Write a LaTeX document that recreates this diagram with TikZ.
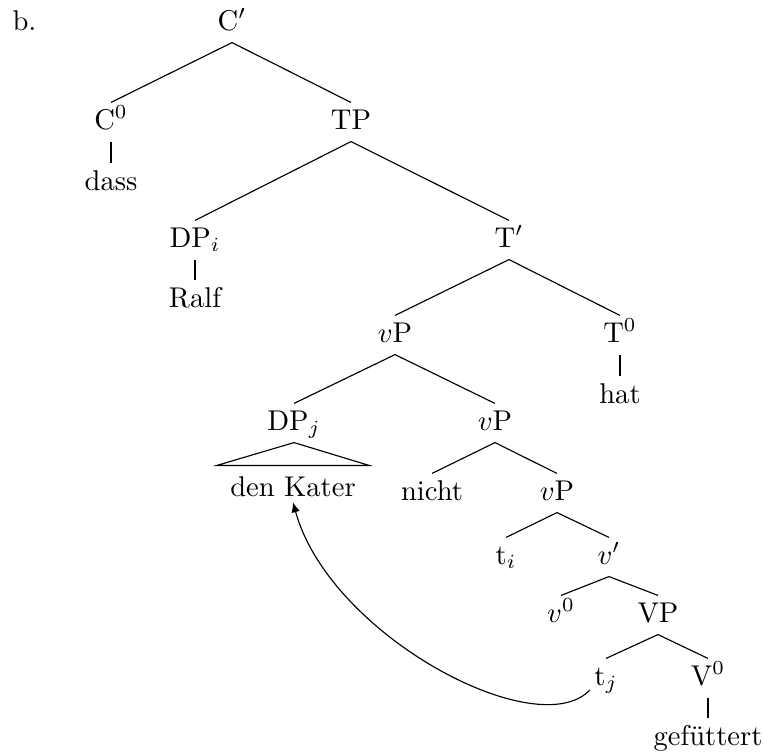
\documentclass[tikz,border=0pt]{standalone}
\usepackage{fontspec}
\usetikzlibrary{arrows.meta}
\begin{document}
\begin{tikzpicture}[x=0.35pt,y=-0.35pt,
  lbl/.style={inner sep=0pt, text height=9.1pt, text depth=4.2pt, anchor=base},
  edge/.style={line width=0.4pt},
  move/.style={line width=0.4pt, -{Latex[length=3.5pt,width=3pt]}}]
\useasboundingbox (0,0) rectangle (764,756);

% example label
\node[anchor=base west, inner sep=0pt] (ex) at (12,30) {b.};

% nodes (placed at their baselines)
\node[lbl] (cbar) at (232,30)  {C$'$};
\node[lbl] (c0)   at (111,129) {C$^0$};
\node[lbl] (dass) at (111,190) {dass};
\node[lbl] (tp)   at (351,129) {TP};
\node[lbl] (dpi)  at (195,247) {DP$_i$};
\node[lbl] (ralf) at (195,307) {Ralf};
\node[lbl] (tbar) at (509,247) {T$'$};
\node[lbl] (vp1)  at (395,342) {$v$P};
\node[lbl] (t0)   at (620,342) {T$^0$};
\node[lbl] (hat)  at (620,403) {hat};
\node[lbl] (dpj)  at (294,430) {DP$_j$};
\node[lbl, text height=10.5pt, text depth=2pt, inner xsep=4.5pt] (kater) at (293,496) {den Kater};
\node[lbl] (vp2)  at (495,430) {$v$P};
\node[lbl] (nicht) at (432,500) {nicht};
\node[lbl] (vp3)  at (557,500) {$v$P};
\node[lbl] (ti)   at (506,564) {t$_i$};
\node[lbl] (vbar) at (609,564) {$v'$};
\node[lbl] (v0)   at (561,622) {$v^0$};
\node[lbl] (vp)   at (658,622) {VP};
\node[lbl] (tj)   at (606,685) {t$_j$};
\node[lbl] (vv0)  at (708,685) {V$^0$};
\node[lbl] (gef)  at (708,745) {gefüttert};

% branches
\draw[edge] (cbar.south) -- (c0.north);
\draw[edge] (cbar.south) -- (tp.north);
\draw[edge] (c0.south) -- (dass.north);
\draw[edge] (tp.south) -- (dpi.north);
\draw[edge] (tp.south) -- (tbar.north);
\draw[edge] (dpi.south) -- (ralf.north);
\draw[edge] (tbar.south) -- (vp1.north);
\draw[edge] (tbar.south) -- (t0.north);
\draw[edge] (t0.south) -- (hat.north);
\draw[edge] (vp1.south) -- (dpj.north);
\draw[edge] (vp1.south) -- (vp2.north);
\draw[edge] (vp2.south) -- (nicht.north);
\draw[edge] (vp2.south) -- (vp3.north);
\draw[edge] (vp3.south) -- (ti.north);
\draw[edge] (vp3.south) -- (vbar.north);
\draw[edge] (vbar.south) -- (v0.north);
\draw[edge] (vbar.south) -- (vp.north);
\draw[edge] (vp.south) -- (tj.north);
\draw[edge] (vp.south) -- (vv0.north);
\draw[edge] (vv0.south) -- (gef.north);

% roof over the object DP
\draw[edge] (dpj.south) -- (kater.north west) -- (kater.north east) -- cycle;

% movement of the object
\draw[move] ([shift={(-4,5)}]tj.base west) .. controls +(-52,55) and +(37,134) .. (kater.south);
\end{tikzpicture}
\end{document}
